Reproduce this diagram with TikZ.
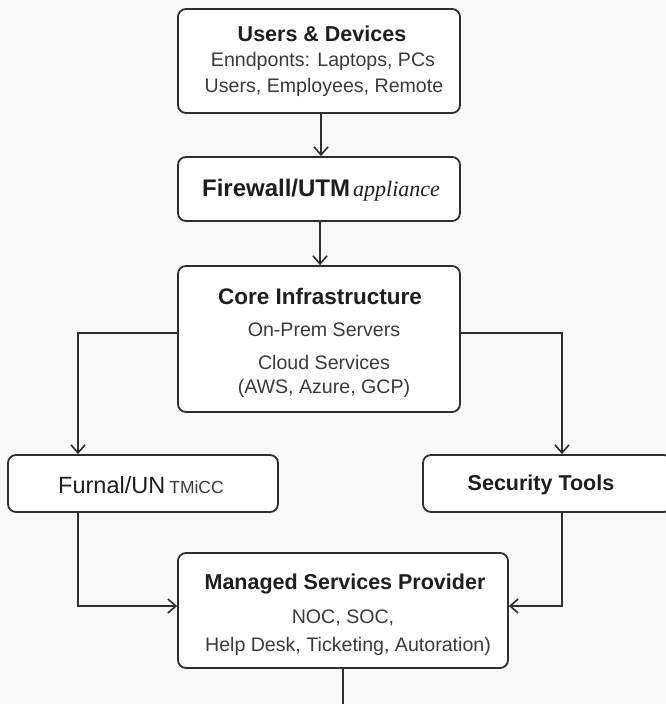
\documentclass[tikz,border=0pt]{standalone}
\usepackage{fontspec}
\setmainfont{Liberation Sans}
\newfontfamily\serifit{Liberation Serif}
\usetikzlibrary{arrows.meta,positioning,calc}
\definecolor{bg}{HTML}{F8F8F8}
\definecolor{edge}{HTML}{2E2E2E}
\definecolor{ttl}{HTML}{1E1E1E}
\definecolor{sub}{HTML}{3A3A3A}
\tikzset{
  box/.style={draw=edge, line width=1.8pt, rounded corners=8pt, fill=white, inner sep=0pt},
  ttlfont/.style={text=ttl, font=\fontsize{21.5}{24}\selectfont\bfseries, inner sep=0pt, anchor=center},
  subfont/.style={text=sub, font=\fontsize{19.6}{22}\selectfont, inner sep=0pt, anchor=center},
  conn/.style={draw=edge, line width=1.6pt},
  arr/.style={conn, -{Straight Barb[length=8pt,width=14pt,line width=1.6pt]}}
}
\begin{document}
\begin{tikzpicture}[x=1pt,y=-1pt]
\fill[bg] (0,0) rectangle (666,704);
\useasboundingbox (0,0) rectangle (666,704);

% boxes
\node[box, minimum width=282pt, minimum height=104pt] (ud) at (319,61) {};
\node[box, minimum width=282pt, minimum height=64pt] (fw) at (319,189) {};
\node[box, minimum width=282pt, minimum height=146pt] (core) at (319,339) {};
\node[box, minimum width=270pt, minimum height=57pt] (furnal) at (143,483.5) {};
\node[box, minimum width=249pt, minimum height=57pt] (sec) at (547.5,483.5) {};
\node[box, minimum width=330pt, minimum height=115pt] (msp) at (343,610.5) {};

% texts
\node[ttlfont] (udt) at (322,34) {Users \& Devices};
\node[subfont] (ud1) at (323,61) {Enndponts: Laptops, PCs};
\node[subfont] (ud2) at (324,87) {Users, Employees, Remote};

\node[text=ttl, inner sep=0pt] (fwt) at (321,190) {{\fontsize{24}{26}\selectfont\bfseries Firewall/UTM}\kern3pt{\serifit\itshape\fontsize{22}{24}\selectfont appliance}};

\node[ttlfont, font=\fontsize{22.5}{25}\selectfont\bfseries] (coret) at (320,296) {Core Infrastructure};
\node[subfont] (core1) at (324,330) {On-Prem Servers};
\node[subfont] (core2) at (324,362) {Cloud Services};
\node[subfont] (core3) at (324,388) {(AWS, Azure, GCP)};

\node[text=ttl, inner sep=0pt] (furt) at (141,485) {{\fontsize{23.5}{26}\selectfont Furnal/UN}\kern4pt{\color{sub}\fontsize{17.5}{18}\selectfont TMiCC}};

\node[ttlfont] (sect) at (541,485) {Security Tools};

\node[ttlfont] (mspt) at (345,584) {Managed Services Provider};
\node[subfont] (msp1) at (343,618) {NOC, SOC,};
\node[subfont] (msp2) at (348,646) {Help Desk, Ticketing, Autoration)};

% connectors
\draw[arr] ([xshift=2pt]ud.south) -- ([xshift=2pt]fw.north);
\draw[arr] ([xshift=1pt]fw.south) -- ([xshift=1pt]core.north);
\draw[arr] ([yshift=6pt]core.west) -| ([xshift=-65pt]furnal.north);
\draw[arr] ([yshift=6pt]core.east) -| ([xshift=14.5pt]sec.north);
\draw[arr] ([xshift=-65pt]furnal.south) |- ([yshift=4.5pt]msp.west);
\draw[arr] ([xshift=14.5pt]sec.south) |- ([yshift=4.5pt]msp.east);
\coordinate (mspout) at (343,706);
\draw[conn] (msp.south) -- (mspout);
\end{tikzpicture}
\end{document}
